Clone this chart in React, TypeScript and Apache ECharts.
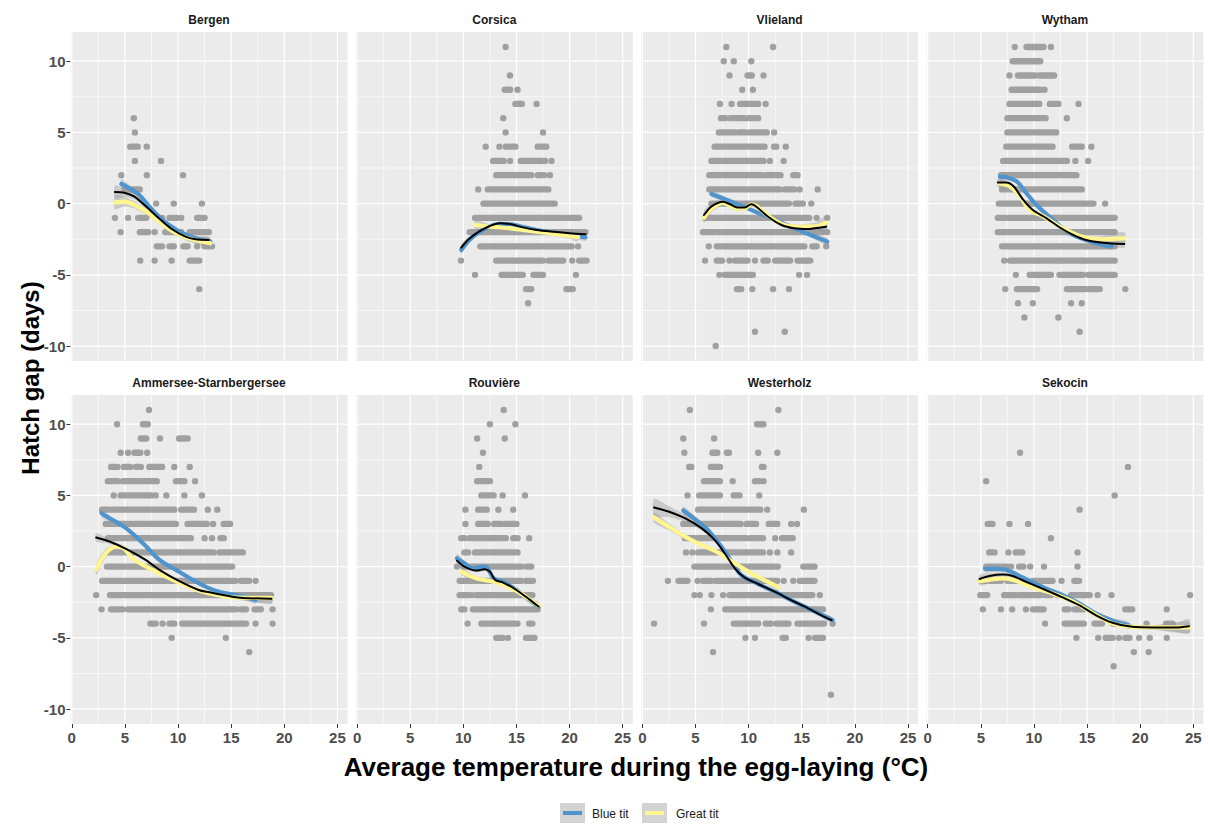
import React, { useEffect, useRef } from "react";
import * as echarts from "echarts";

// ---------- tick values ----------
const xTicks = [0, 5, 10, 15, 20, 25];
const xMinor = [2.5, 7.5, 12.5, 17.5, 22.5];
const yTicks = [-10, -5, 0, 5, 10];
const yMinor = [-7.5, -2.5, 2.5, 7.5];

const sites = ["Bergen", "Corsica", "Vlieland", "Wytham", "Ammersee-Starnbergersee", "Rouvière", "Westerholz", "Sekocin"];

// ---------- points: [hatch gap, x] or [hatch gap, xStart, xEnd] for runs of overlapping points ----------
const bergenPoints = [[6,5.84],[5,5.94],[4,5.5,6.2],[4,7.06],[3,5.94],[3,8.4],[2,4.66],[2,7.06],[2,10.47],[1,5.0,6.4],[0,7.94],[0,9.6],[0,12.25],[-1,4.06],[-1,5.3],[-1,6.25,7.0],[-1,8.5],[-1,9.2,9.9],[-1,10.3],[-1,11.8,12.5],[-2,4.6],[-2,6.4,7.2],[-2,7.8],[-2,8.8,9.8],[-2,10.3],[-2,11.1,12.9],[-3,8.0,8.5],[-3,9.2,9.6],[-3,10.5,10.9],[-3,11.8],[-3,12.5,13.2],[-4,6.44],[-4,7.8],[-4,9.4],[-4,11.1,12.0],[-6,12.0]];
const corsicaPoints = [[11,13.98],[9,14.39],[8,13.9,14.4],[8,15.1],[7,14.9,15.5],[7,16.9],[6,13.76],[5,13.98],[5,17.5],[4,12.1],[4,13.4],[4,14.0,14.9],[4,17.0,17.8],[3,12.8,13.8],[3,14.4],[3,15.4,17.7],[3,18.3],[2,13.1,16.4],[2,17.0,17.6],[2,18.15],[1,11.4],[1,12.3,18.0],[0,11.9,18.6],[-1,11.1,19.7],[-1,19.9,20.9],[-2,10.6,21.5],[-3,11.6,20.2],[-3,20.8],[-4,9.78],[-4,13.1,17.5],[-4,18.0,19.4],[-4,20.25],[-4,20.9,21.6],[-5,11.1],[-5,13.6,15.6],[-5,16.6,17.5],[-5,20.6],[-6,15.9,16.4],[-6,19.7,20.3],[-7,16.1]];
const vlielandPoints = [[11,7.9],[11,12.3],[10,7.66],[10,8.6],[10,10.25],[9,8.2],[9,9.9,10.3],[9,11.4],[8,9.4],[8,10.4],[7,7.3],[7,8.4],[7,9.2,10.9],[7,11.6],[6,7.4,7.8],[6,8.25,9.6],[6,10.0,10.9],[5,7.2,8.7],[5,9.1,9.7],[5,10.1,11.7],[5,12.4],[4,6.8,11.5],[4,12.4,12.6],[4,13.5],[3,6.5,11.4],[3,12.0],[3,13.3],[2,6.3,11.3],[2,11.7,13.0],[2,14.2,14.6],[1,6.3,12.9],[1,13.4,14.3],[1,14.8],[1,16.5],[0,6.5,13.8],[0,14.4,15.1],[0,15.9],[-1,5.9,15.7],[-1,16.4],[-1,17.4],[-2,5.7,6.8],[-2,7.1,17.0],[-2,17.4],[-3,6.25],[-3,7.0,15.25],[-3,16.0,16.4],[-3,17.3],[-4,5.9],[-4,7.0,7.5],[-4,8.2],[-4,8.7,9.9],[-4,10.6],[-4,11.4,11.8],[-4,12.5,13.9],[-4,14.6,15.8],[-5,7.25],[-5,7.75,10.4],[-5,14.75],[-5,15.5],[-6,8.9,9.3],[-6,10.35],[-6,12.3],[-6,13.8],[-9,10.6],[-9,13.4],[-10,6.9]];
const wythamPoints = [[11,8.2],[11,9.3,10.9],[11,11.6],[10,8.0,10.6],[9,7.7],[9,8.5,10.1],[9,10.5,11.9],[8,7.9,10.6],[8,11.0],[7,7.7,10.5],[7,11.5,12.3],[7,14.2],[6,7.5,11.1],[6,13.1],[5,7.5,12.1],[4,7.4,11.75],[4,13.6,14.5],[4,15.4],[3,7.1,13.1],[3,13.9],[3,15.1],[2,6.9,14.0],[1,7.0,14.5],[0,6.7,15.6],[0,16.7],[-1,6.6,7.3],[-1,7.6,17.6],[-2,6.6,17.6],[-3,7.0,17.6],[-4,7.2],[-4,7.75,17.6],[-5,8.3],[-5,9.6,11.6],[-5,12.4,14.6],[-5,15.1,17.6],[-6,7.3],[-6,8.4,10.3],[-6,13.1,14.8],[-6,15.1,16.2],[-6,18.6],[-7,8.5],[-7,9.9],[-7,13.5],[-7,14.5],[-8,9.1],[-8,12.3],[-9,14.3]];
const ammerseePoints = [[11,7.27],[10,4.26],[10,6.7,7.15],[9,6.5,7.0],[9,8.3],[9,10.1,10.9],[8,4.6],[8,5.3],[8,5.9,6.45],[8,7.1],[7,3.7,4.3],[7,4.9,5.5],[7,6.05,6.5],[7,7.3,8.5],[7,9.65],[7,11.1],[6,3.4,4.3],[6,4.8,6.5],[6,6.8,8.0],[6,9.8,10.6],[6,11.6],[5,3.95],[5,4.6,7.5],[5,7.9],[5,8.9],[5,10.6],[5,12.25],[4,2.85,3.55],[4,3.85,9.65],[4,10.3,11.5],[4,12.8],[4,13.7],[3,3.2,9.8],[3,10.9,12.7],[3,13.3],[3,14.3,14.9],[2,3.4,11.2],[2,12.5],[2,13.2],[2,14.0,14.3],[1,3.55,13.35],[1,13.9,16.1],[0,3.3,15.1],[-1,2.85,15.4],[-1,15.9,16.7],[-1,17.3],[-2,2.3],[-2,3.6,18.75],[-3,2.8],[-3,3.7,4.8],[-3,5.3,6.3],[-3,6.5,15.45],[-3,15.9,16.4],[-3,17.2,17.8],[-3,18.9],[-4,7.4,7.9],[-4,8.55],[-4,9.2,9.65],[-4,10.4,16.4],[-4,17.3],[-4,18.9],[-5,9.4],[-5,14.5],[-6,16.7]];
const rouvierePoints = [[11,13.8],[10,12.5],[10,14.9],[9,11.3],[9,13.9],[8,11.85],[7,11.5],[6,11.3,12.5],[5,11.7,12.85],[5,13.7],[5,15.8],[4,10.2],[4,11.4,12.2],[4,13.3],[4,14.7],[3,10.2],[3,11.4,12.3],[3,12.9,13.6],[3,14.0,15.0],[2,9.8,10.1],[2,10.6,14.0],[2,14.7,15.1],[2,16.2],[1,10.1,10.45],[1,11.1,15.1],[0,9.4],[0,10.0,15.45],[0,15.9,16.4],[-1,9.65,15.45],[-1,15.9,16.55],[-2,9.65,10.45],[-2,10.8],[-2,11.2,16.5],[-3,9.8,10.1],[-3,10.9,17.0],[-4,10.4],[-4,11.7,15.1],[-4,16.2,16.5],[-5,13.1,13.7],[-5,14.2],[-5,15.9,16.7]];
const westerholzPoints = [[11,4.47],[11,12.8],[10,10.8,11.4],[9,3.85],[9,6.75],[8,3.95],[8,6.6,7.05],[8,7.95,8.15],[8,10.9],[8,12.7],[7,4.4,4.6],[7,6.45,7.3],[7,11.25,11.4],[6,5.8,7.3],[6,8.5],[6,10.6,11.0],[6,11.4],[5,4.25],[5,5.35,7.3],[5,8.6,9.15],[5,11.0],[4,5.25,11.1],[4,11.75],[4,15.2],[3,3.85],[3,4.15,9.25],[3,9.8,10.7],[3,11.9,12.7],[3,14.0],[3,14.55],[2,4.0,9.7],[2,10.1,11.35],[2,12.5],[2,13.15,14.15],[1,4.1],[1,4.7],[1,5.25,8.7],[1,9.0,11.35],[1,12.0],[1,12.7],[1,14.0],[0,4.9,12.75],[0,15.15,16.2],[-1,2.4],[-1,3.4,4.25],[-1,5.2],[-1,5.7,6.5],[-1,6.9,12.7],[-1,13.3],[-1,14.2],[-1,14.8,16.2],[-2,4.9],[-2,5.4],[-2,6.5],[-2,7.6],[-2,8.2,13.85],[-2,14.15,16.0],[-2,16.7],[-3,6.45],[-3,7.8,17.0],[-4,1.1],[-4,5.8],[-4,8.6,10.9],[-4,11.6,12.1],[-4,12.6,13.75],[-4,14.6,17.1],[-4,17.9],[-5,9.7],[-5,10.6],[-5,13.2,13.5],[-5,15.65],[-5,16.25,17.0],[-6,6.65],[-9,17.75]];
const sekocinPoints = [[8,8.7],[7,18.85],[6,5.5],[5,17.6],[4,14.3],[3,5.65,6.1],[3,7.7],[3,9.45],[2,11.6],[1,5.8,6.3],[1,7.6],[1,8.3,8.9],[1,14.1],[0,5.5,7.5],[0,7.85],[0,8.6,9.0],[0,9.65],[0,10.95],[0,14.1],[-1,5.0,5.5],[-1,5.9,6.9],[-1,7.5,8.8],[-1,9.3],[-1,9.9,11.75],[-1,12.6],[-1,13.8,14.25],[-2,4.95,5.6],[-2,7.2,8.3],[-2,8.6,10.65],[-2,11.05,11.6],[-2,12.2,12.4],[-2,13.5,15.25],[-2,16.0],[-2,17.3],[-2,24.7],[-3,5.2],[-3,6.9],[-3,7.95],[-3,9.25],[-3,9.9,10.9],[-3,12.9,13.25],[-3,13.8,14.7],[-3,18.6,19.25],[-3,22.5],[-4,11.05],[-4,12.9,14.7],[-4,15.7,16.4],[-4,17.45,17.7],[-4,20.6],[-4,22.45,23.05],[-5,14.0],[-5,16.05],[-5,16.75,17.4],[-5,18.0],[-5,18.6,19.0],[-5,19.9],[-5,20.9],[-5,22.5],[-6,19.4],[-6,20.8],[-7,17.5]];

// ---------- smoothed fits: [x, y, half-width of confidence band] ----------
const bergenBlue = [[4.66,1.38,0.35],[5.4,1.08,0.25],[6.35,0.61,0.2],[7.3,-0.21,0.18],[8.2,-0.91,0.18],[9.15,-1.5,0.18],[10.4,-2.08,0.2],[11.65,-2.44,0.2],[13.05,-2.67,0.3]];
const bergenYellow = [[4.06,0.09,0.5],[4.94,0.14,0.35],[5.9,-0.09,0.25],[7.0,-0.56,0.2],[8.06,-1.15,0.2],[9.3,-1.85,0.2],[10.7,-2.37,0.2],[13.05,-2.79,0.3]];
const bergenBlack = [[4.06,0.82,0.45],[4.94,0.77,0.3],[5.9,0.49,0.2],[7.0,-0.21,0.15],[8.2,-1.03,0.15],[9.3,-1.73,0.15],[10.7,-2.32,0.15],[11.65,-2.5,0.15],[12.9,-2.55,0.2]];

const corsicaBlue = [[9.8,-3.25,0.3],[10.5,-2.6,0.2],[11.5,-2.0,0.15],[12.5,-1.6,0.12],[13.4,-1.42,0.1],[14.5,-1.45,0.1],[15.5,-1.62,0.1],[16.9,-1.85,0.1],[18.5,-2.05,0.12],[20,-2.2,0.15],[21.5,-2.37,0.25]];
const corsicaYellow = [[11.1,-1.5,0.3],[12.5,-1.62,0.15],[13.4,-1.66,0.12],[15,-1.8,0.1],[16.9,-1.97,0.12],[18.5,-2.12,0.15],[20,-2.27,0.2],[20.8,-2.35,0.3]];
const corsicaBlack = [[9.8,-3.09,0.25],[10.5,-2.5,0.18],[11.5,-1.95,0.12],[12.5,-1.57,0.1],[13.4,-1.38,0.08],[14.5,-1.45,0.08],[15.5,-1.65,0.08],[16.9,-1.85,0.08],[18.5,-1.98,0.1],[20,-2.08,0.12],[21.5,-2.15,0.2]];

const vlielandBlue = [[6.5,0.68,0.2],[9,-0.05,0.1],[12,-1.0,0.1],[15,-1.95,0.12],[17.4,-2.67,0.25]];
const vlielandYellow = [[5.8,-1.0,0.35],[6.5,-0.35,0.25],[7.6,0.05,0.18],[8.4,-0.2,0.15],[9.0,-0.35,0.15],[9.6,-0.35,0.15],[10.25,-0.05,0.15],[10.7,-0.15,0.15],[11.8,-0.85,0.15],[13.1,-1.42,0.15],[14.3,-1.62,0.15],[16.2,-1.6,0.25],[17.3,-1.33,0.5]];
const vlielandBlack = [[5.8,-0.8,0.3],[6.5,-0.2,0.2],[7.6,0.14,0.15],[8.4,-0.1,0.12],[9.0,-0.28,0.12],[9.6,-0.28,0.12],[10.25,-0.05,0.12],[10.7,-0.2,0.12],[11.8,-0.9,0.12],[13.1,-1.5,0.12],[14.3,-1.73,0.12],[15.5,-1.78,0.15],[16.2,-1.73,0.2],[17.3,-1.62,0.4]];

const wythamBlue = [[6.8,1.9,0.3],[7.4,1.85,0.2],[8.4,1.55,0.15],[9.3,0.73,0.12],[10.25,-0.1,0.1],[11.8,-1.15,0.1],[13.4,-2.1,0.1],[14.9,-2.55,0.1],[16.5,-2.9,0.15],[17.3,-3.0,0.25]];
const wythamYellow = [[6.7,1.43,0.3],[7.75,1.2,0.2],[8.7,0.5,0.15],[9.6,-0.45,0.12],[10.9,-0.9,0.12],[12.4,-1.6,0.12],[14.3,-2.27,0.12],[16.2,-2.5,0.2],[18.5,-2.44,0.45]];
const wythamBlack = [[6.6,1.48,0.3],[7.4,1.48,0.15],[8.1,1.2,0.12],[9.0,0.26,0.1],[9.9,-0.45,0.08],[11.2,-1.03,0.08],[12.4,-1.66,0.08],[13.7,-2.2,0.08],[14.9,-2.55,0.08],[16.5,-2.74,0.12],[18.5,-2.83,0.3]];

const ammerseeBlue = [[2.8,3.75,0.3],[3.55,3.4,0.2],[5.1,2.7,0.12],[6.7,1.64,0.1],[8.25,0.47,0.1],[9.8,-0.23,0.1],[11.4,-0.94,0.1],[12.95,-1.53,0.1],[14.5,-1.88,0.12],[16.1,-2.1,0.15],[17.3,-2.35,0.25]];
const ammerseeYellow = [[2.3,-0.19,0.4],[3.2,0.94,0.3],[4.2,1.41,0.2],[4.9,1.29,0.15],[5.7,0.59,0.12],[6.7,0.12,0.12],[7.6,-0.23,0.1],[9.2,-0.82,0.1],[11.4,-1.53,0.1],[12.95,-1.88,0.1],[15.1,-2.16,0.12],[18.8,-2.2,0.35]];
const ammerseeBlack = [[2.3,2.04,0.3],[3.55,1.76,0.15],[5.1,1.24,0.1],[6.95,0.47,0.08],[8.25,-0.23,0.08],[9.8,-0.89,0.08],[11.95,-1.64,0.08],[12.95,-1.8,0.08],[15.1,-2.11,0.1],[16.1,-2.2,0.15],[18.8,-2.25,0.35]];

const rouviereBlue = [[9.4,0.59,0.3],[10.1,0.23,0.2],[10.9,-0.12,0.15],[11.8,0.0,0.12],[12.2,-0.05,0.12],[12.85,-0.82,0.12],[13.7,-1.06,0.12],[15.0,-1.64,0.12],[16.2,-2.35,0.15],[17.1,-2.82,0.25]];
const rouviereYellow = [[9.8,-0.35,0.25],[11.2,-0.82,0.15],[12.8,-1.06,0.12],[14.0,-1.36,0.12],[15.3,-1.83,0.12],[16.2,-2.3,0.15],[17.1,-2.77,0.25]];
const rouviereBlack = [[9.4,0.42,0.3],[10.1,0.0,0.15],[11.2,-0.28,0.12],[12.0,-0.19,0.12],[12.5,-0.35,0.12],[13.0,-0.94,0.12],[13.7,-1.1,0.1],[15.0,-1.64,0.1],[16.2,-2.3,0.12],[17.1,-2.82,0.2]];

const westerholzBlue = [[3.85,3.94,0.3],[4.95,3.33,0.2],[6.2,2.54,0.15],[7.3,1.53,0.12],[8.4,0.35,0.12],[9.3,-0.59,0.1],[10.9,-1.22,0.1],[12.45,-1.76,0.1],[14.0,-2.35,0.1],[15.6,-2.93,0.12],[17.9,-3.75,0.2]];
const westerholzYellow = [[1.1,3.45,0.35],[2.45,2.82,0.25],[4.0,2.11,0.18],[5.55,1.53,0.12],[7.1,0.99,0.12],[8.7,0.23,0.12],[10.25,-0.47,0.15],[11.8,-1.06,0.2],[12.8,-1.46,0.25]];
const westerholzBlack = [[1.1,4.15,0.6],[2.45,3.87,0.4],[4.0,3.4,0.25],[5.55,2.7,0.15],[6.8,1.88,0.12],[7.75,0.94,0.12],[8.7,-0.12,0.12],[9.6,-0.75,0.1],[10.9,-1.22,0.1],[12.45,-1.76,0.1],[14.0,-2.35,0.1],[15.6,-2.93,0.1],[16.8,-3.4,0.12],[17.8,-3.75,0.2]];

const sekocinBlue = [[5.4,-0.16,0.25],[6.4,-0.16,0.2],[7.4,-0.23,0.15],[8.3,-0.52,0.12],[9.55,-0.99,0.1],[11.1,-1.53,0.1],[12.7,-2.0,0.1],[14.25,-2.58,0.12],[15.8,-3.29,0.15],[17.4,-3.8,0.2],[18.9,-4.11,0.25]];
const sekocinYellow = [[4.9,-1.03,0.3],[6.1,-0.89,0.2],[7.1,-0.82,0.15],[8.3,-0.99,0.12],[9.9,-1.46,0.1],[11.75,-1.88,0.1],[13.7,-2.46,0.12],[15.6,-3.29,0.15],[17.4,-3.99,0.15],[19.25,-4.23,0.15],[21.2,-4.27,0.15],[24.6,-4.27,0.4]];
const sekocinBlack = [[4.9,-0.87,0.3],[5.8,-0.66,0.2],[7.1,-0.56,0.15],[8.0,-0.66,0.12],[9.25,-1.06,0.1],[11.1,-1.64,0.1],[12.7,-2.16,0.1],[14.25,-2.7,0.12],[15.8,-3.4,0.15],[17.4,-3.94,0.15],[19.25,-4.23,0.15],[21.2,-4.27,0.15],[23.3,-4.27,0.3],[24.6,-4.18,0.5]];

const panelPoints = [bergenPoints, corsicaPoints, vlielandPoints, wythamPoints, ammerseePoints, rouvierePoints, westerholzPoints, sekocinPoints];
const panelBlue = [bergenBlue, corsicaBlue, vlielandBlue, wythamBlue, ammerseeBlue, rouviereBlue, westerholzBlue, sekocinBlue];
const panelYellow = [bergenYellow, corsicaYellow, vlielandYellow, wythamYellow, ammerseeYellow, rouviereYellow, westerholzYellow, sekocinYellow];
const panelBlack = [bergenBlack, corsicaBlack, vlielandBlack, wythamBlack, ammerseeBlack, rouviereBlack, westerholzBlack, sekocinBlack];

// ---------- styling ----------
const FONT = "'Liberation Sans', Arial, Helvetica, sans-serif";
const BLUE = "#4F94CD";
const YELLOW = "#FFF68F";
const BLACK = "#000000";
const POINT = "#A0A0A0";
const PANEL_BG = "#EBEBEB";
const X_MIN = -0.12, X_MAX = 25.95, Y_MIN = -11.05, Y_MAX = 12.05;
const COL_LEFT = 70.5, COL_STEP = 285.3, PANEL_W = 277, PANEL_H = 329;
const ROW_TOP = [32, 395];

function buildOption() {
  const grids: any[] = [], xAxes: any[] = [], yAxes: any[] = [], series: any[] = [], graphics: any[] = [];

  const gridData: any[] = [];
  xTicks.forEach((v) => gridData.push([0, v, 1]));
  xMinor.forEach((v) => gridData.push([0, v, 0]));
  yTicks.forEach((v) => gridData.push([1, v, 1]));
  yMinor.forEach((v) => gridData.push([1, v, 0]));

  sites.forEach((name, i) => {
    const col = i % 4, row = Math.floor(i / 4);
    const left = COL_LEFT + COL_STEP * col, top = ROW_TOP[row];
    grids.push({ left, top, width: PANEL_W, height: PANEL_H, show: true, backgroundColor: PANEL_BG, borderWidth: 0, containLabel: false });
    const showX = row === 1, showY = col === 0;
    xAxes.push({
      type: "value", gridIndex: i, min: X_MIN, max: X_MAX, position: "bottom", show: showX,
      splitLine: { show: false }, axisLine: { show: false, onZero: false },
      axisTick: { show: showX, customValues: xTicks, length: 4, lineStyle: { color: "#333333", width: 1 } },
      axisLabel: { show: showX, customValues: xTicks, fontSize: 15, fontWeight: "bold", color: "#4D4D4D", fontFamily: FONT, margin: 6 },
    });
    yAxes.push({
      type: "value", gridIndex: i, min: Y_MIN, max: Y_MAX, position: "left", show: showY,
      splitLine: { show: false }, axisLine: { show: false, onZero: false },
      axisTick: { show: showY, customValues: yTicks, length: 4, lineStyle: { color: "#333333", width: 1 } },
      axisLabel: { show: showY, customValues: yTicks, fontSize: 15, fontWeight: "bold", color: "#4D4D4D", fontFamily: FONT, margin: 5 },
    });

    // gridlines (major and minor)
    series.push({
      type: "custom", xAxisIndex: i, yAxisIndex: i, silent: true, z: 1,
      data: gridData,
      renderItem: (params: any, api: any) => {
        const kind = api.value(0), v = api.value(1), major = api.value(2);
        const cs = params.coordSys;
        const lw = major ? 1.2 : 0.6;
        if (kind === 0) {
          const p = api.coord([v, 0]);
          return { type: "line", shape: { x1: p[0], y1: cs.y, x2: p[0], y2: cs.y + cs.height }, style: { stroke: "#FFFFFF", lineWidth: lw } };
        }
        const p = api.coord([0, v]);
        return { type: "line", shape: { x1: cs.x, y1: p[1], x2: cs.x + cs.width, y2: p[1] }, style: { stroke: "#FFFFFF", lineWidth: lw } };
      },
    });

    // points
    series.push({
      type: "custom", xAxisIndex: i, yAxisIndex: i, silent: true, z: 2,
      data: panelPoints[i].map((r) => [r[0], r[1], r.length > 2 ? r[2] : r[1]]),
      encode: { x: [1, 2], y: 0 },
      renderItem: (params: any, api: any) => {
        const y = api.value(0), x0 = api.value(1), x1 = api.value(2);
        const p0 = api.coord([x0, y]), p1 = api.coord([x1, y]);
        const r = 3.2;
        return { type: "rect", shape: { x: p0[0] - r, y: p0[1] - r, width: p1[0] - p0[0] + 2 * r, height: 2 * r, r }, style: { fill: POINT } };
      },
    });

    const curves: [number[][], string, number][] = [
      [panelBlue[i], BLUE, 4.2],
      [panelYellow[i], YELLOW, 4.2],
      [panelBlack[i], BLACK, 2],
    ];
    curves.forEach(([curve, color, width]) => {
      series.push({
        type: "custom", xAxisIndex: i, yAxisIndex: i, silent: true, z: 3,
        data: [[curve[0][0], curve[0][1]]],
        renderItem: (params: any, api: any) => {
          const upper = curve.map((c) => api.coord([c[0], c[1] + c[2]]));
          const lower = curve.map((c) => api.coord([c[0], c[1] - c[2]])).reverse();
          return { type: "polygon", shape: { points: upper.concat(lower), smooth: 0.25 }, style: { fill: "#999999", opacity: 0.4 } };
        },
      });
      series.push({
        type: "line", xAxisIndex: i, yAxisIndex: i, silent: true, z: 3,
        data: curve.map((c) => [c[0], c[1]]),
        showSymbol: false, symbol: "none", smooth: 0.3,
        lineStyle: { color, width, cap: "round" },
      });
    });

    graphics.push({
      type: "text", x: left + PANEL_W / 2, y: row === 0 ? 20 : 383, silent: true,
      style: { text: name, fill: "#1A1A1A", fontSize: 12, fontWeight: "bold", fontFamily: FONT, align: "center", verticalAlign: "middle", textAlign: "center", textVerticalAlign: "middle" },
    });
  });

  // axis titles
  graphics.push({
    type: "text", x: 636, y: 767, silent: true,
    style: { text: "Average temperature during the egg-laying (°C)", fill: "#000000", fontSize: 26, fontWeight: "bold", fontFamily: FONT, align: "center", verticalAlign: "middle", textAlign: "center", textVerticalAlign: "middle" },
  });
  graphics.push({
    type: "text", x: 30, y: 378, rotation: Math.PI / 2, silent: true,
    style: { text: "Hatch gap (days)", fill: "#000000", fontSize: 24, fontWeight: "bold", fontFamily: FONT, align: "center", verticalAlign: "middle", textAlign: "center", textVerticalAlign: "middle" },
  });

  // legend
  const legendItems: [string, string, number, number][] = [["Blue tit", BLUE, 560, 592], ["Great tit", YELLOW, 642, 676]];
  legendItems.forEach(([label, color, kx, tx]) => {
    graphics.push({ type: "rect", silent: true, shape: { x: kx, y: 803, width: 25, height: 20 }, style: { fill: "#D3D3D3" } });
    graphics.push({ type: "line", silent: true, shape: { x1: kx + 3, y1: 813, x2: kx + 22, y2: 813 }, style: { stroke: color, lineWidth: 4 } });
    graphics.push({
      type: "text", x: tx, y: 813.5, silent: true,
      style: { text: label, fill: "#1A1A1A", fontSize: 12, fontFamily: FONT, align: "left", verticalAlign: "middle", textAlign: "left", textVerticalAlign: "middle" },
    });
  });

  return {
    animation: false,
    backgroundColor: "#FFFFFF",
    textStyle: { fontFamily: FONT },
    grid: grids,
    xAxis: xAxes,
    yAxis: yAxes,
    series,
    graphic: { elements: graphics },
  };
}

export default function App() {
  const ref = useRef<HTMLDivElement>(null);
  useEffect(() => {
    if (!ref.current) return;
    const chart = echarts.init(ref.current, undefined, { renderer: "svg" });
    chart.setOption(buildOption() as any);
    return () => chart.dispose();
  }, []);
  return <div ref={ref} style={{ position: "fixed", left: 0, top: 0, width: 1208, height: 824, background: "#FFFFFF" }} />;
}
